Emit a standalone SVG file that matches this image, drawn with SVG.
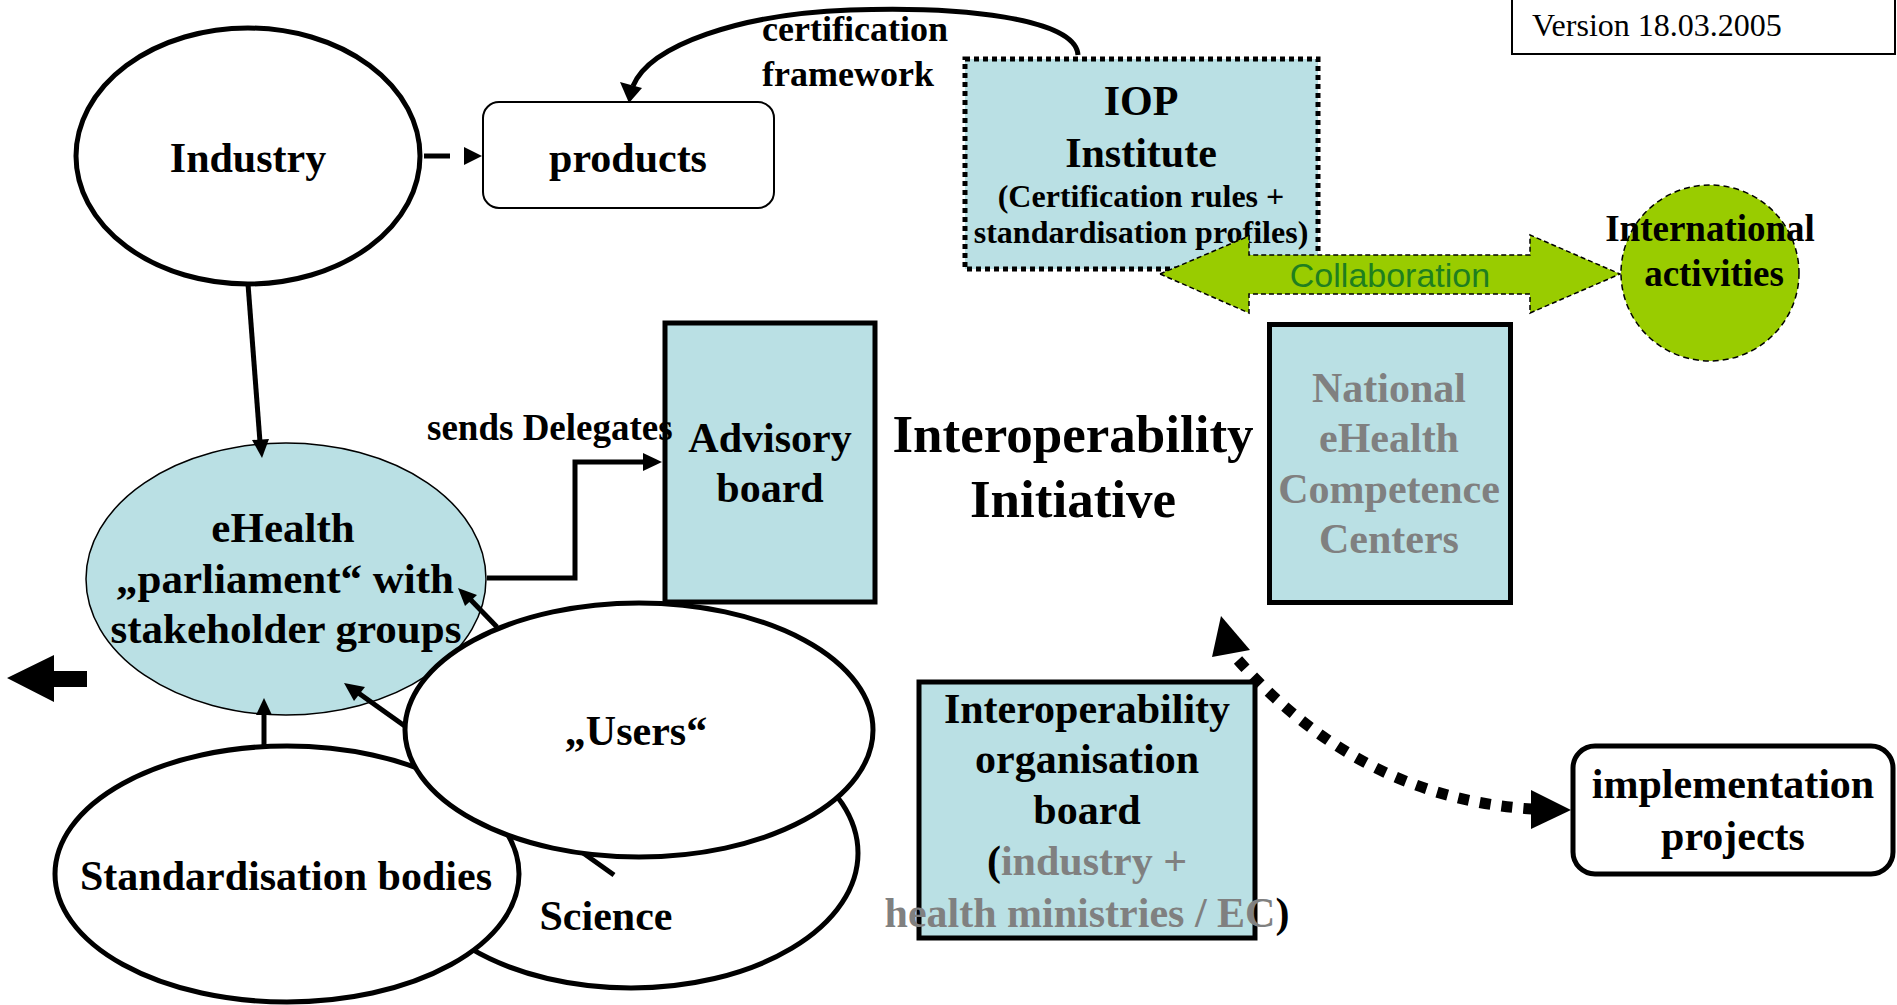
<svg xmlns="http://www.w3.org/2000/svg" width="1897" height="1005" viewBox="0 0 1897 1005">
<style>
.t{font-family:"Liberation Serif","Times New Roman",serif;font-weight:bold;font-size:42px;text-anchor:middle;fill:#000}
.g{fill:#808080}
.wn{fill:#fff;stroke:#000;stroke-width:5}
.bx{fill:#BAE0E4;stroke:#000;stroke-width:5}
.ln{fill:none;stroke:#000;stroke-width:5}
</style>
<rect width="1897" height="1005" fill="#fff"/>

<g id="industry"><ellipse class="wn" cx="248" cy="156" rx="172" ry="128"/><text class="t" x="248" y="172">Industry</text></g>
<g id="products"><rect x="483" y="102" width="291" height="106" rx="16" fill="#fff" stroke="#000" stroke-width="2"/><text class="t" x="628" y="172">products</text></g>
<g id="version"><rect x="1512" y="-5" width="383" height="59" fill="#fff" stroke="#000" stroke-width="2"/><text x="1532" y="36" style="font-family:'Liberation Serif','Times New Roman',serif;font-size:32px">Version 18.03.2005</text></g>
<g id="iop-institute"><rect x="965" y="59" width="353" height="210" fill="#BAE0E4" stroke="#000" stroke-width="5" stroke-dasharray="5 4"/>
<text class="t" x="1141" y="115">IOP</text><text class="t" x="1141" y="167">Institute</text>
<text class="t" x="1141" y="207" style="font-size:32px">(Certification rules +</text>
<text class="t" x="1141" y="243" style="font-size:32px">standardisation profiles)</text></g>
<g id="science"><ellipse class="wn" cx="631" cy="853" rx="227" ry="135"/></g>
<g id="standardisation"><ellipse class="wn" cx="287" cy="874" rx="232" ry="128"/></g>
<g id="ehealth-parliament"><ellipse cx="286" cy="579" rx="200" ry="136" fill="#BAE0E4" stroke="#000" stroke-width="1.5"/></g>
<g id="advisory-board"><rect class="bx" x="665" y="323" width="210" height="279"/><text class="t" x="770" y="452">Advisory</text><text class="t" x="770" y="502">board</text></g>
<g id="interoperability-initiative"><text class="t" x="1073" y="452" style="font-size:53px">Interoperability</text><text class="t" x="1073" y="517" style="font-size:53px">Initiative</text></g>
<g id="national-centers"><rect class="bx" x="1269.5" y="324.5" width="241" height="278"/>
<text class="t g" x="1389" y="402">National</text><text class="t g" x="1389" y="452">eHealth</text><text class="t g" x="1389" y="503">Competence</text><text class="t g" x="1389" y="553">Centers</text></g>
<g id="interop-org-board"><rect class="bx" x="919" y="682" width="336" height="256"/>
<text class="t" x="1087" y="723">Interoperability</text><text class="t" x="1087" y="773">organisation</text><text class="t" x="1087" y="824">board</text>
<text class="t" x="1087" y="875">(<tspan class="g">industry +</tspan></text>
<text class="t" x="1087" y="927"><tspan class="g">health ministries / EC</tspan>)</text></g>
<g id="implementation-projects"><rect x="1573" y="746" width="320" height="128" rx="22" fill="#fff" stroke="#000" stroke-width="5"/><text class="t" x="1733" y="798">implementation</text><text class="t" x="1733" y="850">projects</text></g>

<g id="connectors">
<path d="M424,156 H450" stroke="#000" stroke-width="5"/>
<polygon points="464,147 482,156 464,165"/>
<path class="ln" d="M1078,55 C1076,18 960,6 850,10 C740,14 650,45 633,86"/>
<polygon points="620,82 642,88 629,103"/>
<path class="ln" d="M248,284 L260,442"/>
<polygon points="252,440 269,439 262,458"/>
<path d="M487,578 H575 V462 H645" fill="none" stroke="#000" stroke-width="5"/>
<polygon points="643,453 662,462 643,471"/>
<path class="ln" d="M264,746 V714"/>
<polygon points="256,715 272,715 264,698"/>
<path class="ln" d="M614,875 L357,692"/>
<polygon points="344,683 365,687 354,701"/>
<path class="ln" d="M497,627 L468,597"/>
<polygon points="458,588 477,595 465,606"/>
<polygon points="7,678 54,655 54,671 87,671 87,687 54,687 54,702"/>
<path d="M1238,660 Q1360,798 1532,809" fill="none" stroke="#000" stroke-width="11" stroke-dasharray="11 11"/>
<polygon points="1221,616 1250,650 1212,657"/>
<polygon points="1571,810 1531,790 1531,829"/>
<polygon points="1160,274 1249,236 1249,255 1530,255 1530,235 1620,274 1530,313 1530,294 1249,294 1249,313" fill="#99CC00" stroke="#000" stroke-width="1.5" stroke-dasharray="5 3"/>
<text x="1390" y="287" style="font-family:'Liberation Sans',Arial,sans-serif;font-size:34px;text-anchor:middle;fill:#1F7F1F">Collaboration</text>
</g>

<g id="users"><ellipse class="wn" cx="639" cy="730" rx="234" ry="127"/><text class="t" x="636" y="745">„Users“</text></g>
<g id="science-label"><text class="t" x="606" y="930">Science</text></g>
<g id="standardisation-label"><text class="t" x="286" y="890">Standardisation bodies</text></g>
<g id="ehealth-label"><text class="t" x="283" y="542" style="font-size:43px">eHealth</text><text class="t" x="285" y="593" style="font-size:43px">„parliament“ with</text><text class="t" x="286" y="643" style="font-size:43px">stakeholder groups</text></g>
<g id="sends-delegates"><text class="t" x="427" y="440" style="font-size:37px;text-anchor:start">sends Delegates</text></g>
<g id="cert-label"><text class="t" x="762" y="41" style="font-size:36px;text-anchor:start">certification</text><text class="t" x="762" y="86" style="font-size:36px;text-anchor:start">framework</text></g>
<g id="international"><ellipse cx="1710" cy="273" rx="89" ry="88" fill="#99CC00" stroke="#000" stroke-width="1.5" stroke-dasharray="6 4"/><text class="t" x="1710" y="241" style="font-size:37px">International</text><text class="t" x="1714" y="286" style="font-size:37px">activities</text></g>
</svg>
